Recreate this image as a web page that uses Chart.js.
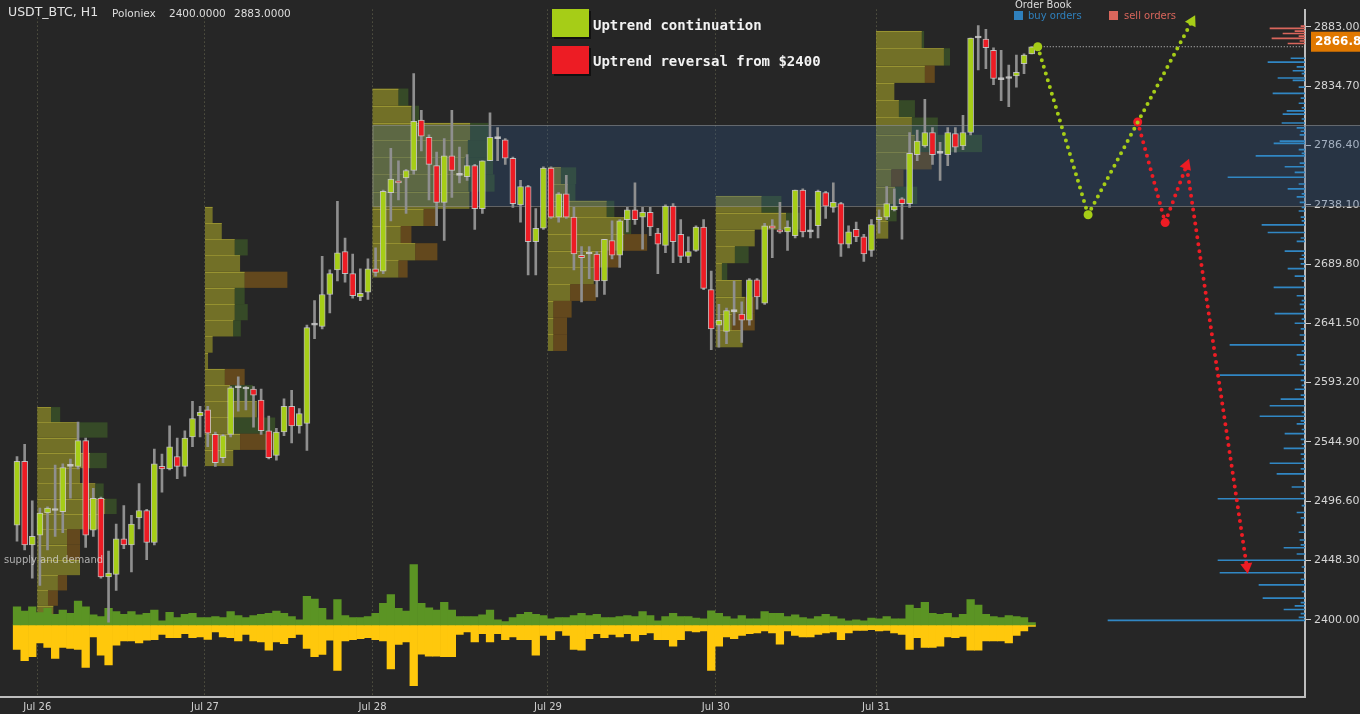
<!DOCTYPE html>
<html>
<head>
<meta charset="utf-8">
<script src="https://cdn.jsdelivr.net/npm/chart.js@4.4.1/dist/chart.umd.min.js"></script>
<style>
body { margin: 0; background: #262626; }
#wrap { position: relative; width: 1360px; height: 714px; overflow: hidden; font-family: 'DejaVu Sans', sans-serif; }
#chart { position: absolute; left: 0; top: 0; }
.t { position: absolute; white-space: nowrap; line-height: 1; }
.mono { font-family: 'DejaVu Sans Mono', monospace; font-weight: bold; font-size: 14px; color: #f2f2f2; }
.sw { position: absolute; width: 37px; height: 28px; box-shadow: 2px 2px 0 #111; }
.sq { position: absolute; width: 9px; height: 9px; }
.hd { font-size: 10.5px; color: #dedede; top: 8px; }
</style>
</head>
<body>
<div id="wrap">
  <canvas id="chart" width="1360" height="714"></canvas>
  <div class="t" style="left:8px;top:6px;font-size:12.5px;color:#e4e4e4">USDT_BTC, H1</div>
  <div class="t hd" style="left:112px">Poloniex</div>
  <div class="t hd" style="left:169px">2400.0000</div>
  <div class="t hd" style="left:234px">2883.0000</div>

  <div class="sw" style="left:552px;top:9px;background:#a6cd17"></div>
  <div class="t mono" style="left:593px;top:18px">Uptrend continuation</div>
  <div class="sw" style="left:552px;top:46px;background:#ed1c24"></div>
  <div class="t mono" style="left:593px;top:54px">Uptrend reversal from $2400</div>

  <div class="t" style="left:1015px;top:0px;font-size:10px;color:#dcdcdc">Order Book</div>
  <div class="sq" style="left:1014px;top:11px;background:#2f80bd"></div>
  <div class="t" style="left:1028px;top:11px;font-size:10px;color:#2f80bd">buy orders</div>
  <div class="sq" style="left:1109px;top:11px;background:#d9665c"></div>
  <div class="t" style="left:1124px;top:11px;font-size:10px;color:#d9665c">sell orders</div>

  <div class="t" style="left:4px;top:555px;font-size:10px;color:rgba(220,220,220,0.75)">supply and demand</div>
</div>
<script>
// hourly candles, index 0 = first bar on the left
const opens = [2477,2529,2461,2469,2487,2489,2488,2525,2525,2546,
  2473,2499,2435,2437,2466,2461,2483,2489,2463,2525,
  2523,2533,2525,2549,2566,2571,2551,2532,2551,2589,
  2588,2588,2579,2554,2534,2553,2574,2558,2560,2640,
  2639,2665,2685,2700,2682,2663,2667,2686,2684,2748,
  2757,2760,2766,2807,2793,2770,2740,2778,2762,2761,
  2770,2735,2774,2792,2791,2776,2738,2753,2708,2719,
  2768,2728,2747,2728,2697,2698,2698,2676,2709,2697,
  2726,2734,2728,2732,2715,2705,2737,2714,2696,2701,
  2720,2669,2640,2635,2651,2649,2644,2677,2658,2721,
  2717,2716,2713,2750,2716,2721,2748,2736,2739,2706,
  2718,2712,2701,2726,2728,2734,2743,2739,2779,2786,
  2797,2780,2779,2796,2786,2797,2874,2873,2864,2840,
  2841,2843,2853,2861];
const highs = [2533,2543,2497,2491,2492,2526,2527,2531,2561,2548,
  2507,2500,2456,2478,2493,2485,2511,2490,2539,2535,
  2558,2548,2554,2578,2574,2574,2553,2551,2590,2598,
  2590,2590,2588,2566,2556,2580,2587,2572,2640,2660,
  2696,2685,2741,2711,2698,2686,2694,2703,2750,2784,
  2774,2767,2845,2815,2795,2781,2792,2815,2785,2779,
  2771,2774,2813,2801,2792,2777,2758,2754,2735,2769,
  2769,2748,2762,2736,2704,2704,2700,2710,2725,2726,
  2736,2756,2736,2736,2719,2738,2739,2726,2712,2721,
  2726,2684,2657,2654,2676,2659,2678,2678,2723,2726,
  2740,2725,2750,2751,2734,2750,2749,2756,2740,2721,
  2724,2714,2726,2734,2753,2751,2744,2797,2799,2824,
  2801,2789,2801,2801,2811,2874,2884,2881,2866,2864,
  2852,2860,2861,2867];
const lows = [2464,2457,2434,2428,2457,2468,2471,2499,2523,2459,
  2468,2434,2398,2424,2458,2439,2474,2449,2461,2504,
  2522,2515,2517,2541,2549,2541,2525,2528,2549,2570,
  2571,2557,2551,2531,2530,2550,2544,2552,2538,2629,
  2637,2650,2676,2675,2662,2660,2661,2680,2682,2725,
  2742,2731,2763,2782,2742,2721,2709,2744,2756,2758,
  2718,2731,2774,2774,2771,2736,2724,2681,2681,2718,
  2727,2724,2727,2685,2659,2678,2663,2665,2694,2687,
  2716,2722,2702,2713,2682,2699,2691,2691,2691,2700,
  2669,2620,2622,2625,2640,2626,2640,2653,2657,2695,
  2715,2701,2711,2712,2711,2711,2727,2732,2696,2703,
  2708,2692,2696,2715,2726,2733,2710,2736,2774,2785,
  2771,2758,2770,2781,2783,2795,2848,2849,2836,2823,
  2818,2834,2845,2861];
const closes = [2529,2461,2468,2487,2491,2489,2524,2525,2546,2469,
  2499,2435,2438,2466,2461,2478,2489,2463,2527,2523,
  2541,2525,2548,2564,2569,2552,2528,2550,2589,2589,
  2588,2583,2554,2532,2553,2574,2558,2568,2638,2640,
  2665,2682,2699,2682,2664,2666,2686,2683,2749,2759,
  2756,2766,2806,2794,2771,2740,2778,2766,2762,2770,
  2735,2774,2793,2792,2776,2739,2753,2708,2719,2768,
  2728,2747,2728,2698,2695,2698,2676,2710,2697,2725,
  2734,2726,2732,2720,2706,2737,2708,2696,2700,2720,
  2670,2637,2644,2652,2651,2644,2677,2663,2721,2719,
  2716,2720,2750,2716,2716,2749,2737,2740,2706,2716,
  2712,2698,2722,2728,2739,2737,2739,2780,2790,2797,
  2779,2780,2797,2785,2797,2874,2874,2866,2841,2840,
  2841,2846,2860,2866.85];

// buy / sell volume per candle
const volBuy = [18.3,14,18.3,12.3,16.7,10.7,15,11.7,24,18.3,
  10,8.3,16.7,13.3,10.7,13.3,10,11.7,15,4,
  12.7,7.3,10.7,11.7,7.3,7.3,8.3,7.3,13.3,9.3,
  7.3,9.3,10.7,11.7,14,11.7,8.3,5,29,26,
  16.7,5,25.7,9.3,7.3,7.3,8.3,11.7,21.7,30.7,
  16.7,14,61,21.7,17.3,15,22.7,15,8.3,8.3,
  8.3,10,15,5,3.3,7.3,10.7,12.7,10.7,9.3,
  6,7.3,7.3,9.3,11.7,9.3,10.7,7.3,7.3,8.3,
  9.3,8.3,13.3,9.3,4,8.3,11.7,8.3,8.3,6.7,
  6,14.3,11.7,8.3,6,9.3,6,6,13.3,11.7,
  11.7,8.3,10,7.3,6,8.3,10.7,8.3,6,4,
  5,4,6.7,6,8.3,6,6,20,16.7,22.7,
  11.7,10.7,11.7,7.3,10.7,25.7,20,10.7,8.3,7.3,
  9.3,8.3,7.3,2.3];
const volSell = [25,36.3,32.3,18.3,23,34,23,24,25,43.3,
  12.3,30.7,40.7,20.7,16.3,16.3,18.3,15.7,15,9.7,
  13,13,9,13,12.3,14.7,7.3,12.3,13,16.3,
  9.7,16.3,17.3,25.7,17.3,19,13,9.7,24,32.3,
  30,15.7,46.3,16.3,15,14,13,15,16.3,44.7,
  20,17.3,61.7,29.7,31.7,31.7,32.3,32.3,9.7,7.3,
  17.3,9,17.3,9,15,12.3,15,15,30.7,10.7,
  15,6.3,10.7,25,25.7,14,9,13,9.7,12.3,
  9,16.3,10,8.3,15,15,21.7,15,6.3,7.3,
  6.3,46.3,21.7,12.3,14,10.7,9,8.3,6.3,8.3,
  19.7,6.3,10.7,12.3,12.3,9.7,8.3,7.3,15,8.3,
  5.7,5.7,5,6.3,5.7,8.3,9.7,25,13,23,
  23,21.7,12.3,13,11.7,25.7,25.7,16.3,16.3,16.3,
  18.3,10.7,6.3,1.7];

// day separators (candle index) and their labels
const dayTicks = [2.66, 24.64, 46.6, 69.6, 91.6, 112.6];
const dayLabels = ['Jul 26', 'Jul 27', 'Jul 28', 'Jul 29', 'Jul 30', 'Jul 31'];
const priceTicks = [2400, 2448.3, 2496.6, 2544.9, 2593.2, 2641.5, 2689.8, 2738.1, 2786.4, 2834.7, 2883];

// daily volume profiles: top price, bin size, and volume per bin (in bar widths)
const profileStart = dayTicks;
const profileTop = [2573.3, 2736.4, 2832.8, 2768.6, 2745.3, 2879.7];
const profileBin = [12.45, 13.2, 14.0, 13.6, 13.7, 14.1];
const profileMain = [
  [1.8, 5.4, 5.4, 6.9, 5.6, 7.6, 8.9, 8.3, 3.9, 3.9, 5.6, 2.7, 1.4, 2.1],
  [1.0, 2.2, 3.9, 4.6, 5.2, 3.9, 3.9, 3.7, 1.0, 0.4, 2.6, 3.3, 6.8, 3.3, 4.6, 3.7],
  [3.4, 5.1, 12.8, 12.5, 12.1, 12.6, 12.7, 6.7, 3.7, 5.6, 3.4],
  [1.7, 2.6, 7.7, 10.0, 10.0, 7.7, 6.0, 2.9, 0.7, 0.7, 0.7],
  [6.0, 9.2, 5.1, 2.5, 0.8, 3.4, 3.8, 2.1, 3.5],
  [6.0, 8.9, 6.4, 2.4, 3.0, 4.7, 5.1, 4.8, 2.0, 2.5, 1.4, 1.6]
];
const profileBuy = [
  [1.2, 3.8, 0, 2.2, 0, 1.1, 1.5, 0, 0, 0, 0, 0, 0, 0],
  [0, 0, 1.7, 0, 0, 1.3, 1.7, 1.0, 0, 0, 0, 3.0, 0, 5.9, 0, 0],
  [1.3, 1.0, 2.4, 3.3, 3.7, 3.4, 0, 0, 0, 0, 0],
  [2.0, 1.0, 1.0, 0.9, 0, 0, 0, 0, 0, 0, 0],
  [2.6, 1.8, 0, 1.8, 0.7, 0, 0, 0, 0],
  [0.3, 0.8, 0, 0, 2.1, 3.4, 8.8, 0, 0, 2.9, 1.3, 0]
];
const profileSell = [
  [0, 0, 0, 0, 0, 0, 0, 0, 1.7, 1.7, 0, 1.2, 1.3, 0],
  [0, 0, 0, 0, 5.6, 0, 0, 0, 0, 0, 2.6, 0, 0, 0, 4.6, 0],
  [0, 0, 0, 0, 0, 0, 0, 1.7, 1.4, 2.9, 1.2],
  [0, 0, 0, 0, 3.0, 1.6, 0, 3.4, 2.4, 1.8, 1.8],
  [0, 0, 0, 0, 0, 0, 1.3, 3.0, 0],
  [0, 0, 1.3, 0, 0, 0, 0, 2.5, 1.6, 0, 0, 0]
];

// supply and demand zone
const zoneStart = 46.6;
const zoneLow = 2737;
const zoneHigh = 2803;

// order book
const buyPrices = [2857.5,2854.3,2850.5,2847.3,2845,2841.4,2839.5,2834,2828.8,2825,2820.8,2817,2814.6,2811.9,2808,
  2804.7,2800.7,2798,2795,2790,2788.1,2783,2780,2777.9,2772,2769.1,2764.5,2760.5,2755,2751.1,2747,2744.5,2740,
  2736,2733,2728,2725,2721.7,2715.5,2711,2708.3,2700.3,2697,2694,2690,2686.1,2680,2676,2670.8,2664,2660,2657,
  2653,2649.4,2645,2641.6,2637,2632,2627,2623.9,2619,2615.8,2611,2608,2603,2599.3,2595,2591,2587.8,2583,2579.8,
  2574.4,2569,2565.8,2562,2559.6,2555,2551.6,2547,2543,2539.6,2535,2531,2527.5,2523,2518.9,2513,2508.2,2503,
  2498.6,2493,2487.4,2483,2477,2471.3,2465,2461,2458.7,2453.6,2448.5,2443,2438.3,2433,2428.4,2423,2417.7,2414,
  2411.4,2408.4,2405,2402,2399.5];
const buySizes = [14,37,8,12,3,27,12,6,32,4,6,3,18,22,3,
  23,8,4,5,25,31,6,3,49,5,20,10,77,6,17,3,8,5,
  3,6,4,3,43,37,4,8,20,3,5,4,17,10,3,31,8,3,5,
  4,30,3,10,4,5,3,75,3,8,4,5,3,85,4,3,10,4,24,
  35,3,45,4,8,3,20,4,3,21,4,3,35,4,28,3,13,4,
  87,3,8,4,3,6,5,4,21,8,87,3,85,4,46,3,42,4,
  10,21,4,6,197];
const sellPrices = [2883.7, 2881.8, 2879.5, 2877.6, 2875.5, 2873.6, 2871.5, 2869.5];
const sellSizes = [4, 35, 10, 22, 6, 33, 5, 17];

// projected paths
const contX = [133.8, 140.4, 154.0];
const contY = [2866.85, 2730, 2887.5];
const revX = [146.9, 150.5, 153.3, 161.2];
const revY = [2805.5, 2723.6, 2770.2, 2443.2];

const GREEN = '#a6cd17';
const RED = '#ed1c24';
const lastPrice = closes[closes.length - 1];

const xMin = -2.23, xMax = 168.83;
const yMin = 2337.1, yMax = 2897.1;

const candles = opens.map((o, i) => i);
const wickData = candles.map(i => ({x: i, y: [lows[i], highs[i]]}));
const bodyData = candles.map(i => ({x: i, y: [opens[i], closes[i]]}));
const bodyColors = candles.map(i => closes[i] > opens[i] ? GREEN : (closes[i] < opens[i] ? RED : '#d4d4d4'));

const overlay = {
  id: 'overlay',
  beforeDatasetsDraw(chart) {
    const {ctx, chartArea, scales: {x, y}} = chart;
    ctx.save();
    ctx.beginPath();
    ctx.rect(chartArea.left, chartArea.top, chartArea.width, chartArea.height);
    ctx.clip();
    const fills = ['rgba(190,185,40,0.5)', 'rgba(70,110,40,0.5)', 'rgba(160,105,20,0.5)'];
    profileStart.forEach((start, s) => {
      profileMain[s].forEach((m, k) => {
        const hi = profileTop[s] - k * profileBin[s];
        const yt = y.getPixelForValue(hi);
        const yb = y.getPixelForValue(hi - profileBin[s]);
        let cur = start;
        [m, profileBuy[s][k], profileSell[s][k]].forEach((v, c) => {
          if (!v) return;
          const a = x.getPixelForValue(cur);
          const b = x.getPixelForValue(cur + v);
          ctx.fillStyle = fills[c];
          ctx.fillRect(a, yt, b - a, yb - yt);
          cur += v;
        });
        ctx.fillStyle = 'rgba(225,215,70,0.35)';
        ctx.fillRect(x.getPixelForValue(start), Math.round(yt), x.getPixelForValue(start + m) - x.getPixelForValue(start), 1);
      });
    });
    ctx.restore();

    // zone box, runs past the axis to the page edge
    const zx = x.getPixelForValue(zoneStart);
    const zt = y.getPixelForValue(zoneHigh);
    const zb = y.getPixelForValue(zoneLow);
    ctx.save();
    ctx.fillStyle = 'rgba(45,85,140,0.3)';
    ctx.fillRect(zx, zt, chart.width - zx, zb - zt);
    ctx.strokeStyle = 'rgba(150,150,150,0.55)';
    ctx.lineWidth = 1;
    ctx.strokeRect(zx + 0.5, Math.round(zt) + 0.5, chart.width, Math.round(zb - zt));
    ctx.restore();
  },
  afterDraw(chart) {
    const {ctx, scales: {y}} = chart;
    const py = y.getPixelForValue(lastPrice);
    ctx.save();
    ctx.fillStyle = '#e07800';
    ctx.fillRect(1311, py - 15, 60, 20);
    ctx.fillStyle = '#ffffff';
    ctx.font = "bold 12px 'DejaVu Sans', sans-serif";
    ctx.textBaseline = 'middle';
    ctx.fillText(lastPrice.toFixed(2), 1315, py - 5);
    ctx.restore();
  }
};

Chart.defaults.font.family = "'DejaVu Sans', sans-serif";

new Chart(document.getElementById('chart'), {
  type: 'bar',
  data: {
    datasets: [
      {
        type: 'line', label: 'Uptrend continuation',
        data: contX.map((v, i) => ({x: v, y: contY[i]})),
        borderColor: GREEN, backgroundColor: GREEN,
        borderWidth: 4, borderDash: [0, 7], borderCapStyle: 'round',
        pointStyle: ['circle', 'circle', 'triangle'],
        pointRadius: [4.5, 4.5, 7], pointRotation: [0, 0, 28], pointBorderWidth: 0,
        clip: false, order: 0
      },
      {
        type: 'line', label: 'Uptrend reversal from $2400',
        data: revX.map((v, i) => ({x: v, y: revY[i]})),
        borderColor: RED, backgroundColor: RED,
        borderWidth: 4, borderDash: [0, 7], borderCapStyle: 'round',
        pointStyle: ['circle', 'circle', 'triangle', 'triangle'],
        pointRadius: [4.5, 4.5, 7, 7], pointRotation: [0, 0, 21, 172], pointBorderWidth: 0,
        clip: false, order: 0
      },
      {
        type: 'line', label: 'last',
        data: [{x: contX[0], y: lastPrice}, {x: xMax, y: lastPrice}],
        borderColor: '#d0d0d0', borderWidth: 1, borderDash: [1, 2], pointRadius: 0, order: 0
      },
      {
        label: 'body', data: bodyData, grouped: false,
        backgroundColor: bodyColors, borderColor: 'rgba(215,215,215,0.8)', borderWidth: 1,
        borderSkipped: false, barThickness: 6, minBarLength: 2, order: 1
      },
      {
        label: 'wick', data: wickData, grouped: false,
        backgroundColor: '#8f8f8f', barThickness: 2, order: 2
      },
      {
        label: 'buy volume', yAxisID: 'yv', grouped: false,
        data: candles.map(i => ({x: i, y: volBuy[i]})),
        backgroundColor: '#5b9424', barPercentage: 1, categoryPercentage: 1, order: 3
      },
      {
        label: 'sell volume', yAxisID: 'yv', grouped: false,
        data: candles.map(i => ({x: i, y: -volSell[i]})),
        backgroundColor: '#ffc80c', barPercentage: 1, categoryPercentage: 1, order: 3
      },
      {
        label: 'buy orders', indexAxis: 'y', xAxisID: 'xb', grouped: false,
        data: buyPrices.map((p, i) => ({y: p, x: buySizes[i]})),
        backgroundColor: '#3187c4', barThickness: 1, order: 4
      },
      {
        label: 'sell orders', indexAxis: 'y', xAxisID: 'xb', grouped: false,
        data: sellPrices.map((p, i) => ({y: p, x: sellSizes[i]})),
        backgroundColor: '#d9665c', barThickness: 1, order: 4
      }
    ]
  },
  options: {
    responsive: false,
    animation: false,
    devicePixelRatio: 1,
    events: [],
    layout: {padding: 0, autoPadding: false},
    plugins: {legend: {display: false}, tooltip: {enabled: false}},
    scales: {
      x: {
        type: 'linear', position: 'bottom', min: xMin, max: xMax, offset: false,
        afterBuildTicks: s => { s.ticks = dayTicks.map(v => ({value: v})); },
        afterFit: s => { s.height = 17; },
        ticks: {callback: (v, i) => dayLabels[i], color: '#cfcfcf', font: {size: 10}, padding: 4, maxRotation: 0, autoSkip: false},
        grid: {color: 'rgba(150,150,110,0.6)', lineWidth: 1, drawTicks: false, offset: false},
        border: {color: '#bdbdbd', width: 2, dash: [1, 3]}
      },
      y: {
        type: 'linear', position: 'right', min: yMin, max: yMax, beginAtZero: false, offset: false,
        afterBuildTicks: s => { s.ticks = priceTicks.map(v => ({value: v})); },
        afterFit: s => { s.width = 55; },
        ticks: {callback: v => v.toFixed(4), color: '#d6d6d6', font: {size: 11}, padding: 3},
        grid: {drawOnChartArea: false, tickLength: 6, tickColor: '#cfcfcf', offset: false},
        border: {color: '#bdbdbd', width: 2}
      },
      yv: {type: 'linear', display: false, min: -73.2, max: 623.8, offset: false},
      xb: {type: 'linear', display: false, min: 0, max: 1305, reverse: true, offset: false}
    }
  },
  plugins: [overlay]
});
</script>
</body>
</html>
